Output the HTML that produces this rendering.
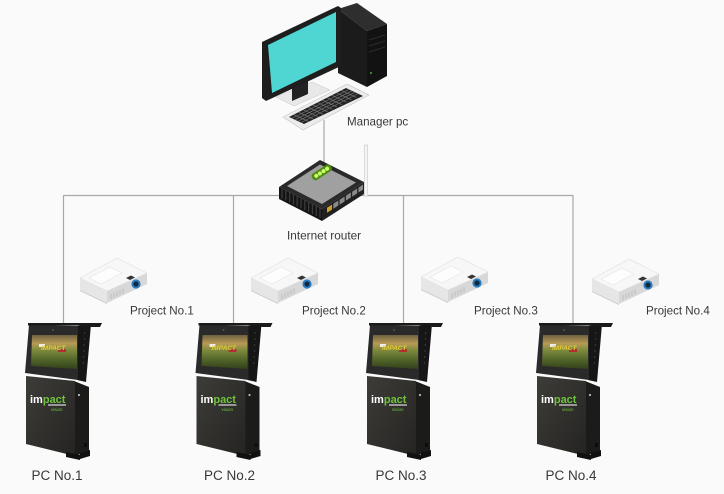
<!DOCTYPE html>
<html><head><meta charset="utf-8"><style>
html,body{margin:0;padding:0;background:#fafafa;}
svg{display:block;}
.lb{font-family:"Liberation Sans",sans-serif;fill:#383838;}
</style></head><body>
<svg width="724" height="494" viewBox="0 0 724 494" xmlns="http://www.w3.org/2000/svg">
<defs>
 <linearGradient id="scr" x1="0" y1="0" x2="0" y2="1">
  <stop offset="0" stop-color="#6e6040"/>
  <stop offset="0.25" stop-color="#b89a55"/>
  <stop offset="0.45" stop-color="#7d8a3c"/>
  <stop offset="0.75" stop-color="#4e6228"/>
  <stop offset="1" stop-color="#33401c"/>
 </linearGradient>
 <linearGradient id="bf" x1="0" y1="0" x2="1" y2="1">
  <stop offset="0" stop-color="#3d3c38"/>
  <stop offset="1" stop-color="#252422"/>
 </linearGradient>
 <g id="k">
  <polygon points="52,58 67,64 67,128 53,133" fill="#1b1b1a"/>
  <polygon points="4,53 53,58 53,133 4,121" fill="url(#bf)"/>
  <polygon points="44,129 58,132 58,137 44,134" fill="#111"/>
  <polygon points="58,130 68,127 68,133 58,136" fill="#111"/>
  <rect x="62" y="120" width="3" height="4" fill="#0c0c0c"/>
  <circle cx="57" cy="72" r="1.1" fill="#bbb"/>
  <polygon points="55,3 69,1 64,59 55,57" fill="#161616"/>
  <path d="M62,10h1.2M62,16h1.2M61.6,22h1.2M61.4,28h1.2M61,34h1.2M60.8,40h1.2" stroke="#555" stroke-width="1"/>
  <polygon points="7,2 56,3 56,57 3,50" fill="#2a2a2a"/>
  <polygon points="10,12 55,12 55,46 9,43" fill="url(#scr)"/>
  <polygon points="6,0 80,0 78,4 69,4 68,2.5 6,2.5" fill="#1a1a1a"/>
  <circle cx="31" cy="7" r="1" fill="#555"/>
  <line x1="26" y1="82" x2="44" y2="82" stroke="#fff" stroke-width="1"/>
  <rect x="36" y="26" width="8" height="3" fill="#b03030"/>
  <rect x="17" y="21" width="6" height="3" fill="#eee"/>
 </g>
 <g id="p">
  <polygon points="0,21 27,34 27,46 0,33" fill="#e6e6e6"/>
  <polygon points="0,33 27,46 27,47 0,34" fill="#c8c8c8"/>
  <polygon points="27,34 67,16 67,27 27,46" fill="#d8d8d8"/>
  <polygon points="0,21 37,1 67,16 27,34" fill="#f7f7f7" stroke="#e0e0e0" stroke-width="0.6"/>
  <polygon points="9,21 30,10 42,16 21,27" fill="#fdfdfd" stroke="#e4e4e4" stroke-width="0.6"/>
  <polygon points="46,21 51,18.5 55,20.5 50,23" fill="#333"/>
  <path d="M31,37v5M34,35.6v5M37,34.2v5M40,32.8v5M43,31.4v5" stroke="#b5b5b5" stroke-width="0.8"/>
  <circle cx="56" cy="27" r="4.6" fill="#2a7bbf"/>
  <circle cx="56" cy="27" r="2.6" fill="#0d2a40"/>
 </g>
</defs>

<!-- connectors -->
<g stroke="#a8a8a8" stroke-width="1.2" fill="none">
 <line x1="63.5" y1="195.5" x2="573" y2="195.5"/>
 <line x1="63.5" y1="195" x2="63.5" y2="325"/>
 <line x1="233.5" y1="195" x2="233.5" y2="325"/>
 <line x1="403.5" y1="195" x2="403.5" y2="325"/>
 <line x1="573" y1="195" x2="573" y2="325"/>
 <line x1="324" y1="120" x2="324" y2="180"/>
</g>

<!-- manager pc -->
<polygon points="338,9 357,3 387,24 367,31" fill="#2e2e2e"/>
<polygon points="338,9 367,31 367,87 338,73" fill="#1b1b1b"/>
<polygon points="367,31 387,24 387,76 367,87" fill="#121212"/>
<path d="M369,40l16,-5M369,46l16,-5M369,52l16,-5" stroke="#2c2c2c" stroke-width="1"/>
<circle cx="371" cy="73" r="1" fill="#4a4"/>
<polygon points="276,97 312,82 330,90 294,106" fill="#e8e8e8" stroke="#d0d0d0" stroke-width="0.6"/>
<polygon points="292,82 308,75 308,94 292,101" fill="#222"/>
<polygon points="262,42 338,6 341,8 341,66 266,101 262,98" fill="#1e1e1e"/>
<polygon points="268,45 336,12 336,62 272,93" fill="#4fd6d2"/>
<polygon points="283,117 347,84 369,95 303,130" fill="#ececec" stroke="#c8c8c8" stroke-width="0.7"/>
<polygon points="289,117 346,88 363,96 304,124" fill="#232323"/>
<path d="M292,118.4L349,89.4M295,119.8L352,90.8M298,121.2L355,92.2M301,122.6L358,93.6M293.75,114.58l15,7M298.5,112.17l15,7M303.25,109.75l15,7M308,107.33l15,7M312.75,104.92l15,7M317.5,102.5l15,7M322.25,100.08l15,7M327,97.67l15,7M331.75,95.25l15,7M336.5,92.83l15,7M341.25,90.42l15,7" stroke="#7a7a7a" stroke-width="0.6"/>
<text class="lb" x="347" y="125.5" font-size="11.6">Manager pc</text>

<!-- router -->
<rect x="364.5" y="145" width="3.2" height="51" fill="#f4f4f4" stroke="#c8c8c8" stroke-width="0.6"/>
<polygon points="279,187 320,160 364,182 322,209" fill="#2a2a2a"/>
<polygon points="287,186 320,164.5 356,182.5 322,204" fill="#a0a0a0"/>
<polygon points="279,187 322,209 322,221 279,199" fill="#141414"/>
<path d="M282,188.5v10M285.8,190.4v10M289.6,192.4v10M293.4,194.3v10M297.2,196.3v10M301,198.2v10M304.8,200.2v10M308.6,202.1v10M312.4,204.1v10M316.2,206v10M320,208v10" stroke="#3c3c3c" stroke-width="1.2"/>
<polygon points="322,209 364,182 364,194 322,221" fill="#202020"/>
<polygon points="327,207.8 332,204.6 332,209.6 327,212.8" fill="#c9a227"/>
<polygon points="333.3,203.7 338.3,200.5 338.3,205.5 333.3,208.7" fill="#8a8a8a"/>
<polygon points="339.6,199.7 344.6,196.5 344.6,201.5 339.6,204.7" fill="#8a8a8a"/>
<polygon points="345.9,195.6 350.9,192.4 350.9,197.4 345.9,200.6" fill="#8a8a8a"/>
<polygon points="352.2,191.6 357.2,188.4 357.2,193.4 352.2,196.6" fill="#8a8a8a"/>
<polygon points="358.5,187.5 363,184.6 363,189.6 358.5,192.5" fill="#8a8a8a"/>
<g transform="translate(321.7,172.3) rotate(-33)">
 <rect x="-11" y="-3.8" width="22" height="7.6" rx="3" fill="#4f8a14"/>
 <circle cx="-6.5" cy="0" r="2" fill="#c8ff6a"/>
 <circle cx="-2.2" cy="0" r="2" fill="#c8ff6a"/>
 <circle cx="2.2" cy="0" r="2" fill="#c8ff6a"/>
 <circle cx="6.5" cy="0" r="2" fill="#c8ff6a"/>
</g>
<text class="lb" x="287" y="239.5" font-size="11.8">Internet router</text>

<!-- projectors -->
<use href="#p" x="80" y="257"/>
<use href="#p" x="251" y="257"/>
<use href="#p" x="421" y="256"/>
<use href="#p" x="592" y="258"/>
<text class="lb" x="130" y="314.5" font-size="11.6">Project No.1</text>
<text class="lb" x="302" y="314.5" font-size="11.6">Project No.2</text>
<text class="lb" x="474" y="314.5" font-size="11.6">Project No.3</text>
<text class="lb" x="646" y="314.5" font-size="11.6">Project No.4</text>

<!-- kiosks -->
<use href="#k" x="22" y="323"/>
<use href="#k" x="192.5" y="323"/>
<use href="#k" x="363" y="323"/>
<use href="#k" x="533" y="323"/>
<g font-family="Liberation Sans, sans-serif">
 <g transform="translate(22,323)">
  <text x="19" y="27" font-size="6.5" font-weight="bold" font-style="italic" fill="#e4cc3a">IMPACT</text>
  <text x="8" y="80" font-size="11" font-weight="bold" fill="#fff">im<tspan fill="#6fc33c">pact</tspan></text>
  <text x="29" y="88" font-size="4.5" fill="#6fc33c">vision</text>
 </g>
 <g transform="translate(192.5,323)">
  <text x="19" y="27" font-size="6.5" font-weight="bold" font-style="italic" fill="#e4cc3a">IMPACT</text>
  <text x="8" y="80" font-size="11" font-weight="bold" fill="#fff">im<tspan fill="#6fc33c">pact</tspan></text>
  <text x="29" y="88" font-size="4.5" fill="#6fc33c">vision</text>
 </g>
 <g transform="translate(363,323)">
  <text x="19" y="27" font-size="6.5" font-weight="bold" font-style="italic" fill="#e4cc3a">IMPACT</text>
  <text x="8" y="80" font-size="11" font-weight="bold" fill="#fff">im<tspan fill="#6fc33c">pact</tspan></text>
  <text x="29" y="88" font-size="4.5" fill="#6fc33c">vision</text>
 </g>
 <g transform="translate(533,323)">
  <text x="19" y="27" font-size="6.5" font-weight="bold" font-style="italic" fill="#e4cc3a">IMPACT</text>
  <text x="8" y="80" font-size="11" font-weight="bold" fill="#fff">im<tspan fill="#6fc33c">pact</tspan></text>
  <text x="29" y="88" font-size="4.5" fill="#6fc33c">vision</text>
 </g>
</g>
<text class="lb" x="57" y="480" font-size="13.5" text-anchor="middle">PC No.1</text>
<text class="lb" x="229.5" y="480" font-size="13.5" text-anchor="middle">PC No.2</text>
<text class="lb" x="401" y="480" font-size="13.5" text-anchor="middle">PC No.3</text>
<text class="lb" x="571" y="480" font-size="13.5" text-anchor="middle">PC No.4</text>
</svg>
</body></html>
